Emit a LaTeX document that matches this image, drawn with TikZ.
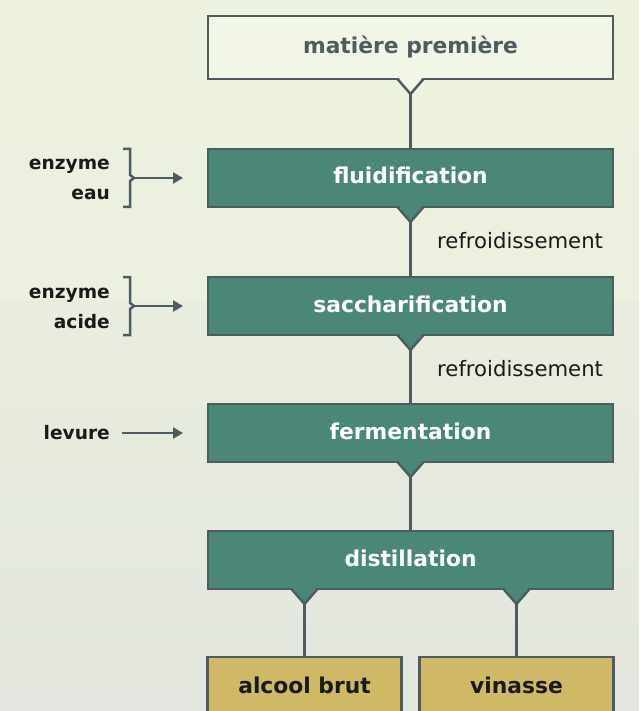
\documentclass[tikz,border=0pt]{standalone}
\usepackage{fontspec}
\setmainfont{DejaVu Sans}
\usetikzlibrary{arrows.meta,calc}
\definecolor{bgA}{HTML}{EEF3DF}
\definecolor{bgB}{HTML}{E2E6DE}
\definecolor{stepgreen}{HTML}{4A8777}
\definecolor{outline}{HTML}{4D5C61}
\definecolor{gold}{HTML}{CFB866}
\definecolor{paper}{HTML}{F2F6E6}
\definecolor{ink}{HTML}{1A1A1A}
\tikzset{
  box/.style={rectangle, draw=outline, line width=2.5pt, inner sep=0pt, outer sep=0pt,
    minimum width=405pt, minimum height=58pt, text height=16pt, text depth=4pt,
    font=\bfseries\fontsize{21.8}{24}\selectfont},
  greenbox/.style={box, fill=stepgreen, text=white},
  topbox/.style={box, fill=paper, text=outline, minimum height=63pt},
  goldbox/.style={box, fill=gold, text=ink, minimum width=194pt, minimum height=60pt},
  link/.style={draw=outline, line width=2.5pt},
  feed/.style={draw=outline, line width=2.5pt, -{Triangle[length=10pt,width=11pt]}},
  inlabel/.style={font=\bfseries\fontsize{18.6}{20}\selectfont, text=ink, anchor=base east, inner sep=0pt},
  note/.style={font=\fontsize{21.2}{23}\selectfont, text=ink, anchor=base west, inner sep=0pt},
}
% V-shaped notch under a box at a given point of its lower edge
\newcommand{\notchat}[2]{%
  \fill[#2] ($(#1)+(-12.5,-2)$) -- ($(#1)+(0,15)$) -- ($(#1)+(12.5,-2)$) -- cycle;
  \draw[outline, line width=2.5pt, line join=miter] ($(#1)+(-13,0)$) -- ($(#1)+(0,15)$) -- ($(#1)+(13,0)$);
}
\begin{document}
\begin{tikzpicture}[x=1pt, y=-1pt]
  \shade[left color=bgA, right color=bgB, shading angle=0] (0,0) rectangle (639,711);
  \fill[bgA, opacity=0.5] (0,0) rectangle (639,300);
  \useasboundingbox (0,0) rectangle (639,711);

  % process steps
  \node[topbox]   (raw)   at (410.5,47.5)  {matière première};
  \node[greenbox] (fluid) at (410.5,178)   {fluidification};
  \node[greenbox] (sacch) at (410.5,306)   {saccharification};
  \node[greenbox] (ferm)  at (410.5,433)   {fermentation};
  \node[greenbox] (dist)  at (410.5,560)   {distillation};
  \node[goldbox]  (brut)  at (304.5,687)   {alcool brut};
  \node[goldbox]  (vin)   at (516.5,687)   {vinasse};

  % notches under each step
  \notchat{raw.south}{paper}
  \notchat{fluid.south}{stepgreen}
  \notchat{sacch.south}{stepgreen}
  \notchat{ferm.south}{stepgreen}
  \notchat{$(dist.south)+(-106,0)$}{stepgreen}
  \notchat{$(dist.south)+(106,0)$}{stepgreen}

  % vertical flow links
  \draw[link] ($(raw.south)+(0,15)$) -- (fluid.north);
  \draw[link] ($(fluid.south)+(0,15)$) -- (sacch.north);
  \draw[link] ($(sacch.south)+(0,15)$) -- (ferm.north);
  \draw[link] ($(ferm.south)+(0,15)$) -- (dist.north);
  \draw[link] ($(dist.south)+(-106,15)$) -- (brut.north);
  \draw[link] ($(dist.south)+(106,15)$) -- (vin.north);

  % cooling notes
  \node[note] (cool1) at (437,248) {refroidissement};
  \node[note] (cool2) at (437,376) {refroidissement};

  % inputs
  \node[inlabel] (enz1) at (110,170) {enzyme};
  \node[inlabel] (eau)  at (110,200) {eau};
  \node[inlabel] (enz2) at (110,298) {enzyme};
  \node[inlabel] (acid) at (110,328) {acide};
  \node[inlabel] (lev)  at (110,439) {levure};

  \coordinate (br1) at (134,178);
  \coordinate (br2) at (134,306);
  \coordinate (levend) at (122,433);
  \draw[link, line join=miter] (123,149) -- (130,149) -- (130,175) -- (br1) -- (130,181) -- (130,207) -- (123,207);
  \draw[link, line join=miter] (123,277) -- (130,277) -- (130,303) -- (br2) -- (130,309) -- (130,335) -- (123,335);
  \draw[feed, shorten >=25pt] (br1) -- (fluid.west);
  \draw[feed, shorten >=25pt] (br2) -- (sacch.west);
  \draw[feed, shorten >=25pt] (levend) -- (ferm.west);
\end{tikzpicture}
\end{document}
